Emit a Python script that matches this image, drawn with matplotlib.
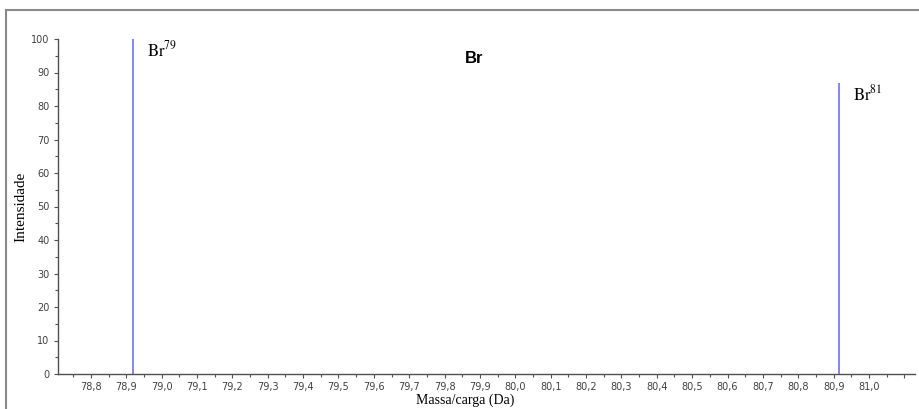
import matplotlib.pyplot as plt
from matplotlib.lines import Line2D
from matplotlib.ticker import MultipleLocator, FuncFormatter

plt.rcParams["mathtext.fontset"] = "stix"

# Isotope peaks of bromine
isotopes = ["79", "81"]
masses = [78.918, 80.916]
intensities = [100, 87]


def comma_fmt(v, p):
    if v > 81.05:
        return ""
    return f"{v:.1f}".replace(".", ",")


fig = plt.figure(figsize=(9.2, 4.09), dpi=100)
ax = fig.add_axes([58 / 920, 1 - 374 / 409, 857 / 920, 335 / 409])

ax.vlines(masses, 0, intensities, color="#8585f2", linewidth=1.4)

ax.set_xlim(78.707, 81.13)
ax.set_ylim(0, 100)
ax.xaxis.set_major_locator(MultipleLocator(0.1))
ax.xaxis.set_minor_locator(MultipleLocator(0.05))
ax.yaxis.set_major_locator(MultipleLocator(10))
ax.yaxis.set_minor_locator(MultipleLocator(5))
ax.xaxis.set_major_formatter(FuncFormatter(comma_fmt))

for s in ["top", "right"]:
    ax.spines[s].set_visible(False)
for s in ["left", "bottom"]:
    ax.spines[s].set_color("#505050")
    ax.spines[s].set_linewidth(1.0)

ax.tick_params(which="major", length=3, width=0.8, color="#505050",
               labelsize=7, labelcolor="#404040", pad=3)
ax.tick_params(which="minor", length=2, width=0.8, color="#505050")

ax.set_xlabel("Massa/carga (Da)", fontfamily="Liberation Serif", fontsize=10)
ax.set_ylabel("Intensidade", fontfamily="Liberation Serif", fontsize=11)
ax.yaxis.set_label_coords(-0.043, 0.5)
ax.xaxis.set_label_coords(0.475, -0.078)
ax.xaxis.label.set_va("center")
ax.yaxis.label.set_va("center")

ax.text(0.485, 0.943, "Br", transform=ax.transAxes, ha="center", va="center",
        fontsize=12, fontweight="bold", fontfamily="Liberation Sans")

for iso, m, h in zip(isotopes, masses, intensities):
    ax.text(m + 0.04, h - 0.5, r"$\mathrm{Br}^{" + iso + "}$", ha="left", va="top",
            fontsize=12)

# grey outer frame (left and top edges visible)
fig.add_artist(Line2D([6 / 920, 6 / 920], [0, 1 - 10 / 409], transform=fig.transFigure,
                      color="#8a8a8a", linewidth=1.5))
fig.add_artist(Line2D([6 / 920, 1], [1 - 10 / 409, 1 - 10 / 409], transform=fig.transFigure,
                      color="#8a8a8a", linewidth=1.5))

fig.savefig("out.png", dpi=100)
